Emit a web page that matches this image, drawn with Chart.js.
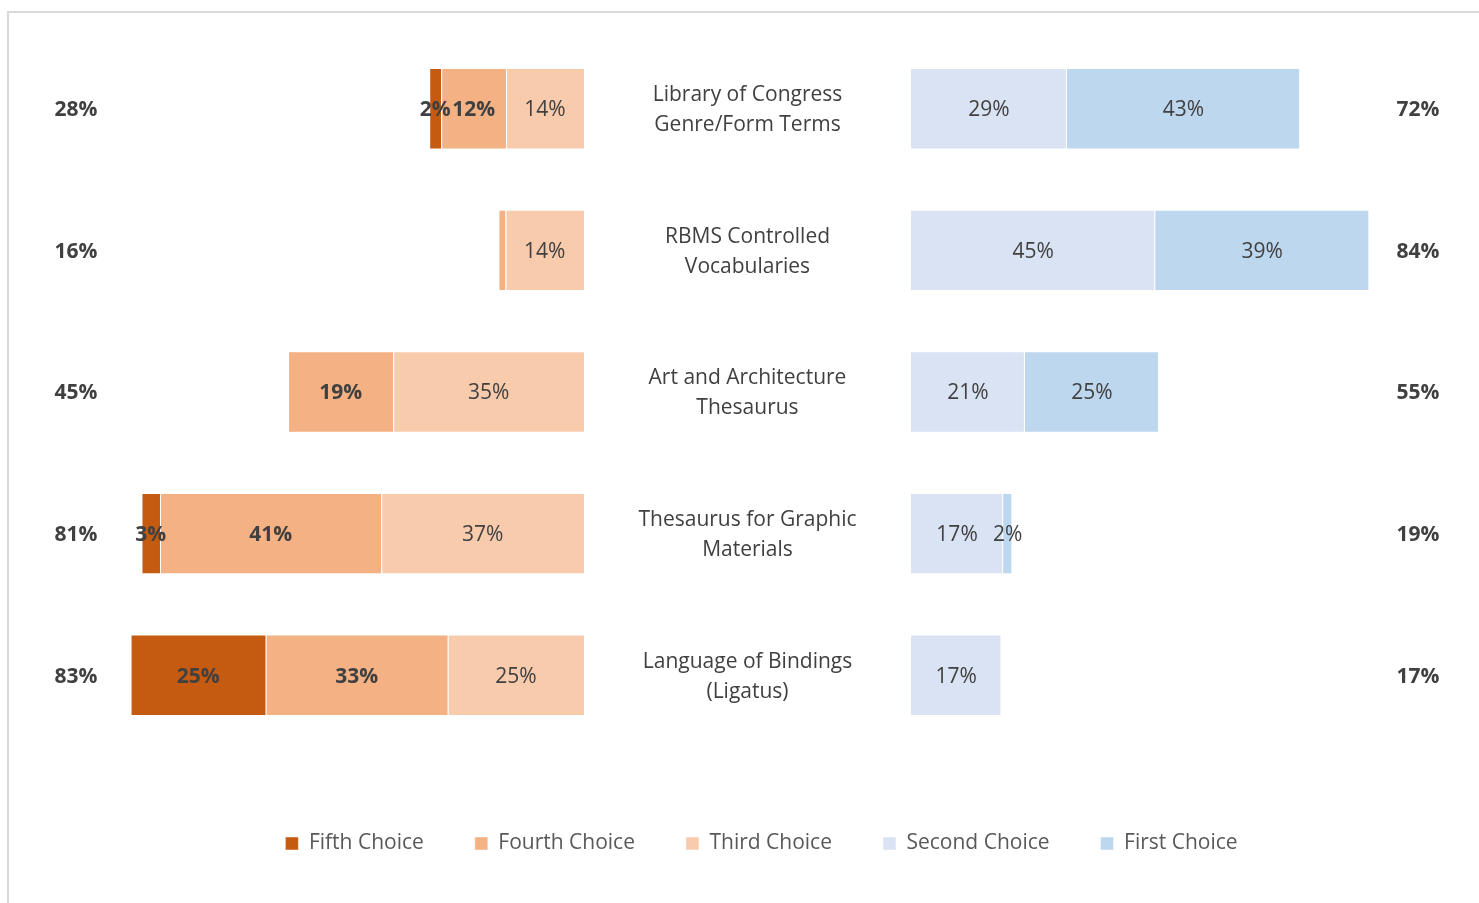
<!DOCTYPE html>
<html><head><meta charset="utf-8">
<script src="https://cdn.jsdelivr.net/npm/chart.js@4"></script>
<style>
html,body{margin:0;padding:0;background:#fff;overflow:hidden;width:1479px;height:903px;}
#frame{position:absolute;left:7px;top:11px;width:1600px;height:1000px;border-left:2px solid #d9d9d9;border-top:2px solid #d9d9d9;}
#wrap{position:absolute;left:0;top:0;width:1479px;height:903px;}
</style></head><body>
<div id="frame"></div>
<div id="wrap"><canvas id="c" width="1479" height="903"></canvas></div>
<script>
// ---- data ----
const categories = [
  ['Library of Congress', 'Genre/Form Terms'],
  ['RBMS Controlled', 'Vocabularies'],
  ['Art and Architecture', 'Thesaurus'],
  ['Thesaurus for Graphic', 'Materials'],
  ['Language of Bindings', '(Ligatus)']
];
const fifthChoice  = [2.2, null, null, 3.4, 24.8];
const fourthChoice = [11.9, 1.3, 19.3, 40.6, 33.4];
const thirdChoice  = [14.3, 14.4, 35.0, 37.2, 25.0];
const secondChoice = [28.6, 44.8, 20.9, 16.9, 16.6];
const firstChoice  = [42.8, 39.3, 24.6, 1.7, null];
const leftTotals  = ['28%', '16%', '45%', '81%', '83%'];
const rightTotals = ['72%', '84%', '55%', '19%', '17%'];

// ---- layout constants ----
const FONT = '"Open Sans", sans-serif';
const FS = 21;
const TEXT = '#404040';
const PX_PER_PCT = 5.45;
const AREA_LEFT = 44, AREA_RIGHT = 1479;
const LEFT_ZERO_PX = 584, RIGHT_ZERO_PX = 911;
const RANGE = (AREA_RIGHT - AREA_LEFT) / PX_PER_PCT;
const xlMax = (LEFT_ZERO_PX - AREA_LEFT) / PX_PER_PCT;
const xrMin = -(RIGHT_ZERO_PX - AREA_LEFT) / PX_PER_PCT;
const LEFT_TOTAL_X = 76, RIGHT_TOTAL_X = 1418;
const TEXT_DY = 1.5;

const legendRank = {'Fifth Choice':0,'Fourth Choice':1,'Third Choice':2,'Second Choice':3,'First Choice':4};

const labelsPlugin = {
  id: 'labelsPlugin',
  afterDatasetsDraw(chart) {
    const ctx = chart.ctx;
    ctx.save();
    ctx.textAlign = 'center';
    ctx.textBaseline = 'middle';
    ctx.fillStyle = TEXT;
    chart.data.datasets.forEach((ds, di) => {
      const meta = chart.getDatasetMeta(di);
      meta.data.forEach((bar, i) => {
        const v = ds.data[i];
        if (v == null || v < 1.5) return;
        const p = bar.getProps(['x', 'base', 'y'], true);
        ctx.font = (ds.boldLabel ? 'bold ' : '') + FS + 'px ' + FONT;
        ctx.fillText(Math.round(v) + '%', (p.x + p.base) / 2, p.y + TEXT_DY);
      });
    });
    const yS = chart.scales.y;
    const cx = (chart.scales.xl.getPixelForValue(0) + chart.scales.xr.getPixelForValue(0)) / 2;
    categories.forEach((lines, i) => {
      const y = yS.getPixelForValue(i) + TEXT_DY;
      ctx.font = FS + 'px ' + FONT;
      const lh = 30;
      lines.forEach((t, k) => {
        ctx.fillText(t, cx, y + (k - (lines.length - 1) / 2) * lh);
      });
      ctx.font = 'bold ' + FS + 'px ' + FONT;
      ctx.fillText(leftTotals[i], LEFT_TOTAL_X, y);
      ctx.fillText(rightTotals[i], RIGHT_TOTAL_X, y);
    });
    ctx.restore();
  }
};

Chart.defaults.font.family = FONT;
Chart.defaults.font.size = FS;
Chart.defaults.color = TEXT;

const border = 'rgba(255,255,255,0.45)';
new Chart(document.getElementById('c'), {
  type: 'bar',
  data: {
    labels: categories,
    datasets: [
      {label: 'Third Choice',  data: thirdChoice,  xAxisID: 'xl', backgroundColor: '#F8CBAD', boldLabel: false},
      {label: 'Fourth Choice', data: fourthChoice, xAxisID: 'xl', backgroundColor: '#F4B183', boldLabel: true},
      {label: 'Fifth Choice',  data: fifthChoice,  xAxisID: 'xl', backgroundColor: '#C55A11', boldLabel: true},
      {label: 'Second Choice', data: secondChoice, xAxisID: 'xr', backgroundColor: '#DAE3F3', boldLabel: false},
      {label: 'First Choice',  data: firstChoice,  xAxisID: 'xr', backgroundColor: '#BDD7EE', boldLabel: false}
    ].map(d => Object.assign(d, {borderColor: border, borderWidth: 1, categoryPercentage: 1, barPercentage: 0.575}))
  },
  options: {
    indexAxis: 'y',
    responsive: false,
    animation: false,
    layout: {padding: {top: 38, bottom: 39, left: AREA_LEFT, right: 0}},
    scales: {
      y: {type: 'category', stacked: true, display: false, offset: true},
      xl: {type: 'linear', stacked: true, reverse: true, display: false,
           min: xlMax - RANGE, max: xlMax},
      xr: {type: 'linear', stacked: true, position: 'bottom', display: true,
           min: xrMin, max: xrMin + RANGE,
           grid: {display: false}, border: {display: false}, ticks: {display: false},
           afterFit: s => { s.height = 36; }}
    },
    plugins: {
      tooltip: {enabled: false},
      legend: {
        position: 'bottom',
        labels: {
          boxWidth: 13, boxHeight: 13, padding: 51, color: '#595959',
          font: {size: FS, family: FONT},
          sort: (a, b) => legendRank[a.text] - legendRank[b.text]
        }
      }
    }
  },
  plugins: [labelsPlugin]
});
</script>
</body></html>
